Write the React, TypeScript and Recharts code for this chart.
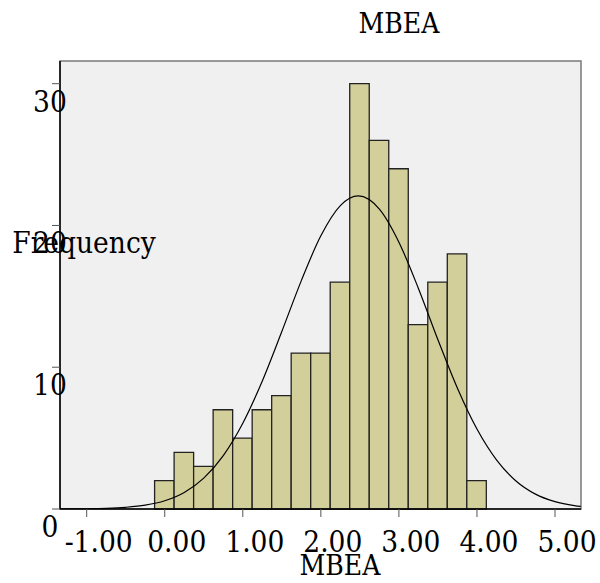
import { ComposedChart, Line, XAxis, YAxis, ReferenceArea, Label } from "recharts";

// histogram bins (left/right edges) and the counts
const BIN_EDGES = [
  -0.13, 0.12, 0.37, 0.62, 0.87, 1.12, 1.37, 1.62, 1.87, 2.12, 2.37, 2.62,
  2.87, 3.12, 3.37, 3.62, 3.87, 4.12,
];
const COUNTS = [2, 4, 3, 7, 5, 7, 8, 11, 11, 16, 30, 26, 24, 13, 16, 18, 2];

// fitted normal curve
const CURVE_X = [
  -1.34, -1.25, -1.0, -0.75, -0.5, -0.25, 0, 0.25, 0.5, 0.75, 1.0, 1.25, 1.5,
  1.75, 2.0, 2.25, 2.48, 2.75, 3.0, 3.25, 3.5, 3.75, 4.0, 4.25, 4.5, 4.75, 5.0,
  5.25, 5.33,
];
const CURVE_Y = [
  0.004, 0.006, 0.017, 0.047, 0.12, 0.27, 0.58, 1.17, 2.18, 3.77, 6.05, 9.03,
  12.52, 16.11, 19.27, 21.4, 22.08, 21.15, 18.82, 15.56, 11.94, 8.52, 5.64,
  3.47, 1.98, 1.05, 0.52, 0.24, 0.18,
];

const X_TICKS = [-1, 0, 1, 2, 3, 4, 5];
const Y_TICKS = [0, 10, 20, 30];
const X_DOMAIN = [-1.342, 5.333];
const Y_DOMAIN = [0, 31.6];

const FONT = "'DejaVu Serif Condensed', 'DejaVu Serif', serif";
const BAR_FILL = "#d3cf9b";

const curve = CURVE_X.map((x, i) => ({ x, y: CURVE_Y[i] }));

function XTick(props: any) {
  const { x, y, payload } = props;
  return (
    <text
      x={x + 12}
      y={y + 33}
      textAnchor="middle"
      fontSize={29.5}
      fontFamily={FONT}
      fontStretch="condensed"
      fill="#000"
    >
      {Number(payload.value).toFixed(2)}
    </text>
  );
}

function YTick(props: any) {
  const { x, y, payload } = props;
  return (
    <text
      x={x}
      y={y + 28}
      textAnchor="middle"
      fontSize={29.5}
      fontFamily={FONT}
      fontStretch="condensed"
      fill="#000"
    >
      {payload.value}
    </text>
  );
}

const textStyle = {
  fontSize: 28,
  fontFamily: FONT,
  fontStretch: "condensed",
  fill: "#000",
};

export default function App() {
  return (
    <div style={{ position: "absolute", left: 0, top: 0, background: "#fff" }}>
      <ComposedChart
        width={600}
        height={583}
        margin={{ top: 61, right: 19, bottom: 0, left: 0 }}
      >
        <ReferenceArea
          x1={X_DOMAIN[0]}
          x2={X_DOMAIN[1]}
          y1={Y_DOMAIN[0]}
          y2={Y_DOMAIN[1]}
          fill="#f0f0f0"
          fillOpacity={1}
          stroke="#7a7a7a"
          strokeWidth={1.5}
        />
        {COUNTS.map((c, i) => (
          <ReferenceArea
            key={i}
            x1={BIN_EDGES[i]}
            x2={BIN_EDGES[i + 1]}
            y1={0}
            y2={c}
            fill={BAR_FILL}
            fillOpacity={1}
            stroke="#222"
            strokeWidth={1.3}
          />
        ))}
        <XAxis
          dataKey="x"
          type="number"
          domain={X_DOMAIN}
          ticks={X_TICKS}
          allowDataOverflow
          height={74}
          tickSize={8}
          tick={<XTick />}
          axisLine={{ stroke: "#000", strokeWidth: 1.5 }}
          tickLine={{ stroke: "#555" }}
        >
          <Label
            content={() => (
              <g>
                <text x={340} y={575} textAnchor="middle" style={textStyle}>
                  MBEA
                </text>
                <text x={399} y={33} textAnchor="middle" style={textStyle}>
                  MBEA
                </text>
              </g>
            )}
          />
        </XAxis>
        <YAxis
          type="number"
          domain={Y_DOMAIN}
          ticks={Y_TICKS}
          allowDataOverflow
          width={60}
          tickSize={8}
          tick={<YTick />}
          axisLine={{ stroke: "#000", strokeWidth: 1.5 }}
          tickLine={{ stroke: "#555" }}
        >
          <Label
            content={() => (
              <text
                x={84}
                y={253}
                textAnchor="middle"
                style={{ ...textStyle, fontSize: 29.5 }}
              >
                Frequency
              </text>
            )}
          />
        </YAxis>
        <Line
          data={curve}
          dataKey="y"
          type="monotone"
          stroke="#000"
          strokeWidth={1.2}
          dot={false}
          activeDot={false}
          isAnimationActive={false}
        />
      </ComposedChart>
    </div>
  );
}
